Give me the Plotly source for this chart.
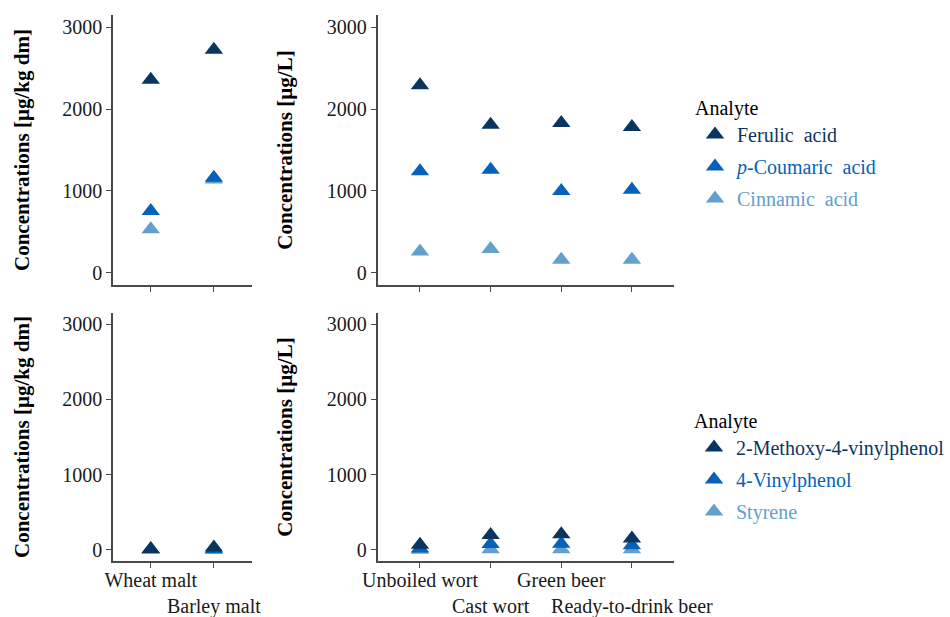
import plotly.graph_objects as go

# ---- data -------------------------------------------------------------
malts = ["Wheat malt", "Barley malt"]
brew_stages = ["Unboiled wort", "Cast wort", "Green beer", "Ready-to-drink beer"]

acids = ["Ferulic\u00a0\u00a0acid", "<i>p</i>-Coumaric\u00a0\u00a0acid", "Cinnamic\u00a0\u00a0acid"]
acids_malt = [[2360, 2725], [755, 1160], [530, 1140]]
acids_stage = [[2290, 1810, 1830, 1780],
               [1240, 1260, 1000, 1015],
               [260, 290, 160, 160]]

phenols = ["2-Methoxy-4-vinylphenol", "4-Vinylphenol", "Styrene"]
phenols_malt = [[10, 30], [5, 8], [0, 0]]
phenols_stage = [[65, 195, 205, 150],
                 [15, 75, 80, 60],
                 [0, 5, 5, 5]]

colors = ["#0a3560", "#0562b8", "#62a0cd"]
y_ticks = [0, 1000, 2000, 3000]

# ---- layout geometry (pixels) ------------------------------------------
W, H = 950, 617
FONT = "Liberation Serif, Times New Roman, serif"
AXIS_COL = "#4a4a4a"
TXT_COL = "#1a1a1a"
TICK_SIZE = 20

panels = {
    # name: (x0, x1, ytop, ybottom)
    "tl": (113, 252, 15, 285),
    "tr": (378, 675, 15, 285),
    "bl": (113, 252, 313, 561),
    "br": (378, 675, 313, 561),
}
axis_ids = {"tl": ("x", "y"), "tr": ("x2", "y2"), "bl": ("x3", "y3"), "br": ("x4", "y4")}

fig = go.Figure()


def add_group(names, malt_vals, stage_vals, top, legend_id):
    # lightest analyte first so the darker triangles sit on top
    for i in reversed(range(len(names))):
        name = names[i]
        for key, cats, vals, show in (
            ("tl" if top else "bl", malts, malt_vals[i], True),
            ("tr" if top else "br", brew_stages, stage_vals[i], False),
        ):
            xa, ya = axis_ids[key]
            fig.add_trace(go.Scatter(
                x=list(range(len(cats))), y=vals,
                mode="markers",
                marker=dict(symbol="triangle-up", size=16, color=colors[i],
                            line=dict(width=0)),
                name=f'<span style="color:{colors[i]}">{name}</span>',
                legendgroup=f"{legend_id}-{i}",
                legendrank=100 + i,
                showlegend=show,
                legend=legend_id,
                xaxis=xa, yaxis=ya,
            ))


add_group(acids, acids_malt, acids_stage, True, "legend")
add_group(phenols, phenols_malt, phenols_stage, False, "legend2")

layout = {}
for key, (x0, x1, yt, yb) in panels.items():
    xa, ya = axis_ids[key]
    cats = malts if key in ("tl", "bl") else brew_stages
    bottom = key in ("bl", "br")
    # two-row (dodged) category labels on the bottom row only
    ticktext = [c if j % 2 == 0 else "<br>" + c for j, c in enumerate(cats)] if bottom else [""] * len(cats)
    xname = "xaxis" + xa[1:]
    yname = "yaxis" + ya[1:]
    layout[xname] = dict(
        domain=[x0 / W, x1 / W], anchor=ya,
        range=[-0.6, len(cats) - 0.4],
        tickvals=list(range(len(cats))), ticktext=ticktext,
        tickangle=0, automargin=False, ticklabelstandoff=-5,
        showgrid=False, zeroline=False, showline=True,
        linecolor=AXIS_COL, linewidth=1.5,
        ticks="outside", ticklen=5, tickwidth=1.2, tickcolor=AXIS_COL,
        tickfont=dict(family=FONT, size=TICK_SIZE, color=TXT_COL),
        fixedrange=True,
    )
    layout[yname] = dict(
        domain=[1 - yb / H, 1 - yt / H], anchor=xa,
        range=[-150, 3150],
        tickvals=y_ticks, ticktext=[str(v) for v in y_ticks],
        automargin=False,
        showgrid=False, zeroline=False, showline=True,
        linecolor=AXIS_COL, linewidth=1.5,
        ticks="outside", ticklen=5, tickwidth=1.2, tickcolor=AXIS_COL,
        tickfont=dict(family=FONT, size=TICK_SIZE, color=TXT_COL),
        fixedrange=True,
    )

fig.update_layout(**layout)

# rotated y-axis titles
titles = [("Concentrations [µg/kg dm]", 22, "tl"), ("Concentrations [µg/L]", 285, "tr"),
          ("Concentrations [µg/kg dm]", 22, "bl"), ("Concentrations [µg/L]", 285, "br")]
for text, xc, key in titles:
    _, _, yt, yb = panels[key]
    fig.add_annotation(
        text=f"<b>{text}</b>", textangle=-90,
        x=xc / W, y=1 - (yt + yb) / 2 / H, xref="paper", yref="paper",
        xanchor="center", yanchor="middle", showarrow=False,
        font=dict(family=FONT, size=21, color="#000000"),
    )

legend_style = dict(
    title=dict(text="Analyte", font=dict(family=FONT, size=20, color="#000000")),
    font=dict(family=FONT, size=20),
    xanchor="left", yanchor="top", bgcolor="rgba(0,0,0,0)",
    tracegroupgap=3, itemwidth=34, traceorder="grouped",
    itemclick=False, itemdoubleclick=False,
)
fig.update_layout(
    width=W, height=H,
    margin=dict(l=0, r=0, t=0, b=0),
    paper_bgcolor="white", plot_bgcolor="white",
    legend=dict(x=693 / W, y=1 - 89 / H, **legend_style),
    legend2=dict(x=693 / W, y=1 - 402 / H, **legend_style),
)

fig.write_html("out.html")
